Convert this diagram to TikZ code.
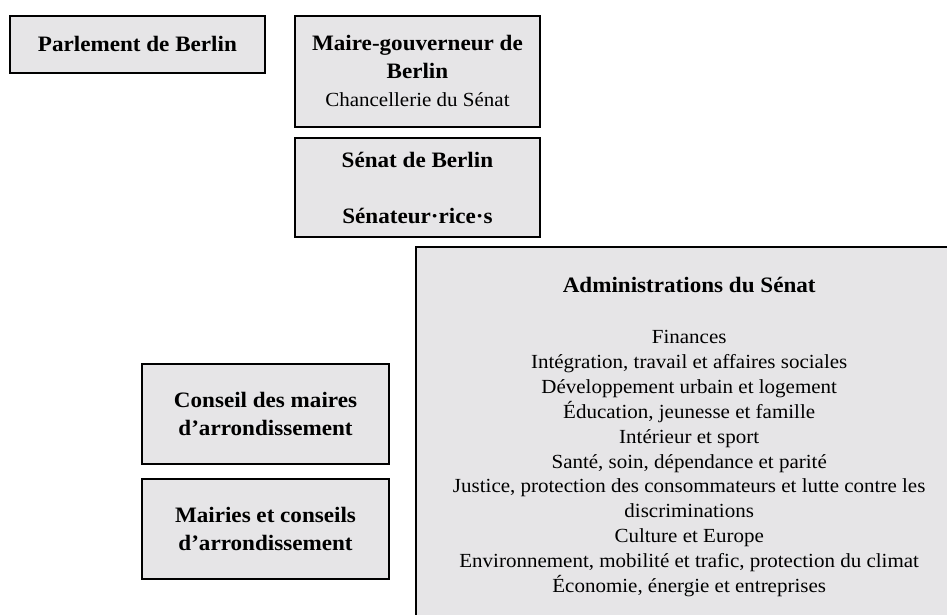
\documentclass[tikz,border=0pt]{standalone}
\usepackage{fontspec}
\setmainfont{Liberation Serif}[FakeStretch=1.05]
\definecolor{boxgray}{RGB}{230,229,231}
\newcommand{\bigbf}{\fontsize{22}{28}\selectfont\bfseries}
\newcommand{\smallrm}{\fontsize{20}{24.9}\selectfont\mdseries}

\begin{document}
\begin{tikzpicture}[
    orgbox/.style={draw=black, line width=1.9pt, fill=boxgray, align=center, inner sep=0pt, font=\bigbf}
]
    \useasboundingbox (0, 0) rectangle (33.28, -21.61);
    \node[orgbox, minimum width=8.98cm, minimum height=2cm] (parlement) at (4.83, -1.56) {Parlement de Berlin};
    \node[orgbox, minimum width=8.61cm, minimum height=3.9cm] (maire) at (14.67, -2.51) {Maire-gouverneur de\\Berlin\\{\mdseries\fontsize{20}{24}\selectfont Chancellerie du Sénat}};
    \node[orgbox, minimum width=8.61cm, minimum height=3.48cm] (senat) at (14.67, -6.59) {Sénat de Berlin\\[28pt]Sénateur·rice·s};
    \node[orgbox, minimum width=19.19cm, minimum height=13.36cm, font=\smallrm] (admin) at (24.22, -15.36) {{\bigbf Administrations du Sénat}\\[26pt]
        Finances\\
        Intégration, travail et affaires sociales\\
        Développement urbain et logement\\
        Éducation, jeunesse et famille\\
        Intérieur et sport\\
        Santé, soin, dépendance et parité\\
        Justice, protection des consommateurs et lutte contre les\\
        discriminations\\
        Culture et Europe\\
        Environnement, mobilité et trafic, protection du climat\\
        Économie, énergie et entreprises};
    \node[orgbox, minimum width=8.68cm, minimum height=3.51cm] (conseil) at (9.33, -14.55) {Conseil des maires\\d’arrondissement};
    \node[orgbox, minimum width=8.68cm, minimum height=3.51cm] (mairies) at (9.33, -18.59) {Mairies et conseils\\d’arrondissement};
\end{tikzpicture}
\end{document}
